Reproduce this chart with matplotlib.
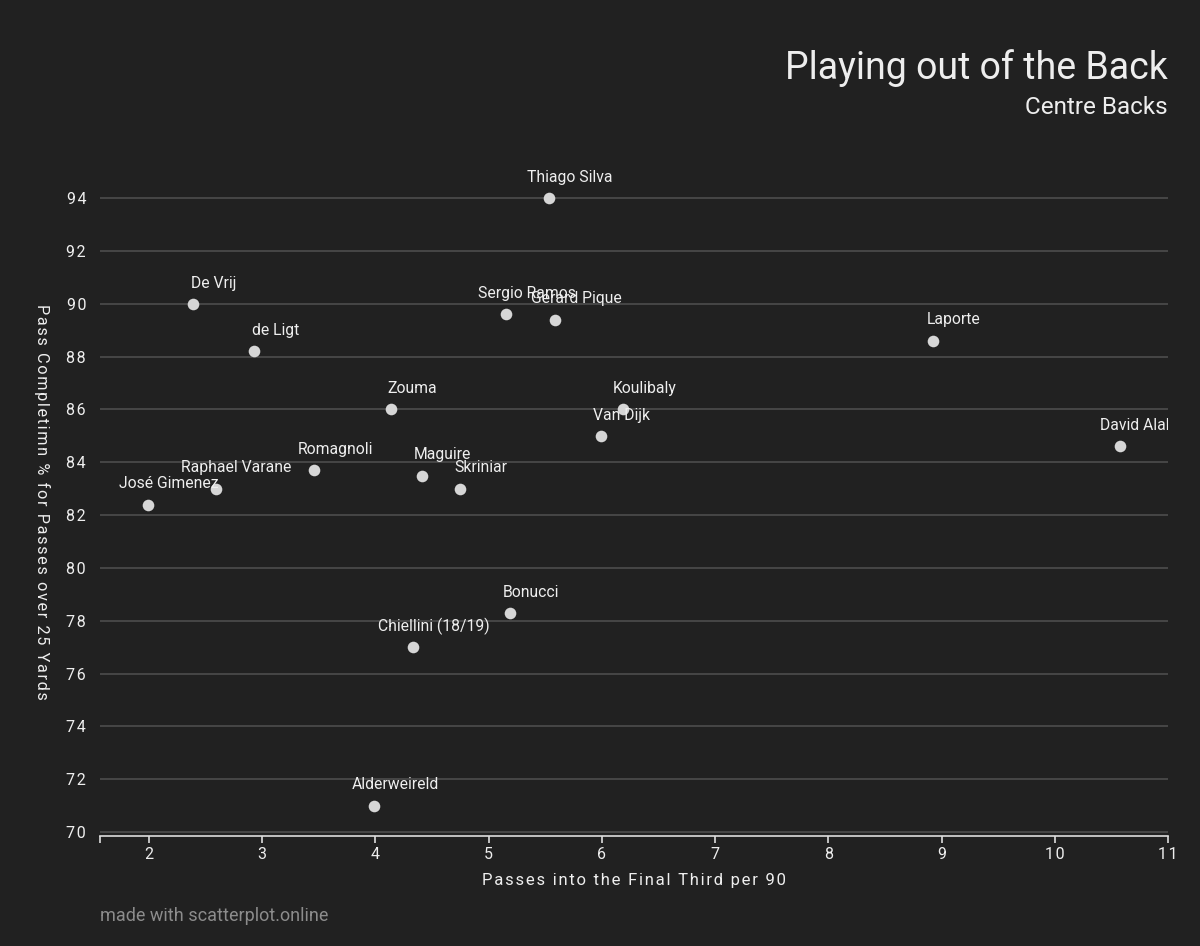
import matplotlib
matplotlib.use("Agg")
import matplotlib.pyplot as plt
from matplotlib.transforms import Bbox, TransformedBbox, blended_transform_factory

names = ["Thiago Silva", "De Vrij", "de Ligt", "Sergio Ramos", "Gerard Pique", "Laporte",
         "Zouma", "Koulibaly", "Van Dijk", "David Alaba", "Romagnoli", "Maguire",
         "Skriniar", "Raphael Varane", "José Gimenez", "Bonucci", "Chiellini (18/19)",
         "Alderweireld"]
final_third = [5.53, 2.39, 2.93, 5.15, 5.59, 8.92, 4.14, 6.19, 5.99, 10.58, 3.46, 4.41,
               4.75, 2.59, 1.99, 5.19, 4.33, 3.99]
completion = [94.0, 90.0, 88.2, 89.6, 89.4, 88.6, 86.0, 86.0, 85.0, 84.6, 83.7, 83.5,
              83.0, 83.0, 82.4, 78.3, 77.0, 71.0]
xticks = [2, 3, 4, 5, 6, 7, 8, 9, 10, 11]
yticks = [70, 72, 74, 76, 78, 80, 82, 84, 86, 88, 90, 92, 94]

BG = "#212121"
FG = "#eeeeee"
plt.rcParams['font.family'] = ['Roboto', 'DejaVu Sans']

def spaced(s):
    return "\u200a".join(s)

fig = plt.figure(figsize=(12, 9.46), dpi=100, facecolor=BG)
ax = fig.add_axes([100/1200, 110/946, 1068/1200, 651/946], facecolor=BG)

clip = TransformedBbox(Bbox([[0, 0], [1, 1]]),
                       blended_transform_factory(ax.transAxes, fig.transFigure))

ax.scatter(final_third, completion, s=70, color="#d6d6d6", zorder=3, linewidths=0)
for n, x, y in zip(names, final_third, completion):
    t = ax.annotate(n, (x, y), xytext=(15, 15), textcoords="offset points",
                    ha="center", va="center", fontsize=11.3, color=FG, zorder=4,
                    annotation_clip=False)
    t.set_clip_box(clip)
    t.set_clip_on(True)

ax.set_xlim(1.567, 11)
ax.set_ylim(69.85, 94.5)
ax.set_xticks(xticks)
ax.set_yticks(yticks)
ax.set_xticklabels([spaced(str(v)) for v in xticks])
ax.set_yticklabels([spaced(str(v)) for v in yticks])
ax.set_xticks([1.567], minor=True)
for v in yticks:
    ax.axhline(v, color="#4d4d4d", lw=1.2, zorder=1)

for s in ["top", "right", "left"]:
    ax.spines[s].set_visible(False)
ax.spines["bottom"].set_color("#dddddd")
ax.spines["bottom"].set_linewidth(1.2)
ax.tick_params(axis="x", which="both", colors="#dddddd", length=5, width=1.2,
               labelsize=11.5, labelcolor=FG, pad=3)
ax.tick_params(axis="y", length=0, labelsize=11.5, labelcolor=FG, pad=10)

ax.set_xlabel(spaced("Passes into the Final Third per 90"), color=FG, fontsize=12, labelpad=8)
ax.set_ylabel(spaced("Pass Completimn % for Passes over 25 Yards"), color=FG, fontsize=11.7,
              rotation=-90, labelpad=20)
ax.yaxis.set_label_coords(-66/1068, 0.513)

fig.text(1168/1200, 1 - 68/946, "Playing out of the Back", ha="right", va="center",
         fontsize=27, color=FG)
fig.text(1168/1200, 1 - 107/946, "Centre Backs", ha="right", va="center",
         fontsize=17.5, color=FG)
fig.text(100/1200, 1 - 916/946, "made with scatterplot.online", ha="left", va="center",
         fontsize=13, color="#8c8c8c")

fig.savefig("out.png", dpi=100, facecolor=BG)
